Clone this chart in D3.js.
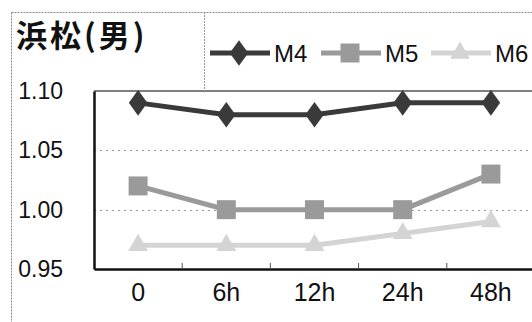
<!DOCTYPE html>
<html><head><meta charset="utf-8">
<script src="https://cdn.jsdelivr.net/npm/d3@7"></script>
<style>body{margin:0;background:#fff;}svg{display:block;}</style>
</head><body>
<svg id="c" width="532" height="322"></svg>
<script>
const categories = ["0", "6h", "12h", "24h", "48h"];
const seriesNames = ["M4", "M5", "M6"];
const m4 = [1.09, 1.08, 1.08, 1.09, 1.09];
const m5 = [1.02, 1.00, 1.00, 1.00, 1.03];
const m6 = [0.97, 0.97, 0.97, 0.98, 0.99];
const yTicks = [0.95, 1.00, 1.05, 1.10];
const title = "浜松(男)";

const svg = d3.select("#c");
const plot = {left: 94, right: 535, top: 91, bottom: 269};
const x = d3.scaleBand().domain(categories).range([plot.left, plot.right]);
const y = d3.scaleLinear().domain([0.95, 1.10]).range([plot.bottom, plot.top]);

const styles = [
  {name: seriesNames[0], values: m4, color: "#3a3a3a", shape: d3.symbolDiamond, size: 190},
  {name: seriesNames[1], values: m5, color: "#9a9a9a", shape: d3.symbolSquare, size: 360},
  {name: seriesNames[2], values: m6, color: "#d4d4d4", shape: d3.symbolTriangle, size: 170}
];

// outer dashed border
svg.append("rect").attr("x", 11.5).attr("y", 12.5).attr("width", 600).attr("height", 400)
  .attr("fill", "none").attr("stroke", "#888").attr("stroke-width", 1).attr("stroke-dasharray", "2,1");

// title
svg.append("text").attr("x", 16).attr("y", 47).text(title)
  .attr("font-family", "'Noto Sans CJK JP', sans-serif").attr("font-weight", "bold")
  .attr("font-size", 31).attr("letter-spacing", 3).attr("fill", "#111");

// gridlines
svg.append("g").selectAll("line").data([1.00, 1.05]).join("line")
  .attr("x1", plot.left).attr("x2", plot.right)
  .attr("y1", d => Math.round(y(d)) + 0.5).attr("y2", d => Math.round(y(d)) + 0.5)
  .attr("stroke", "#999").attr("stroke-width", 1).attr("stroke-dasharray", "2,4");

// plot top line
svg.append("line").attr("x1", plot.left).attr("x2", 532).attr("y1", plot.top).attr("y2", plot.top)
  .attr("stroke", "#555").attr("stroke-width", 1.5);

// legend box left
svg.append("line").attr("x1", 204.5).attr("x2", 204.5).attr("y1", 12).attr("y2", plot.top)
  .attr("stroke", "#999").attr("stroke-width", 1).attr("stroke-dasharray", "2,1");

// x axis
const xAxis = d3.axisBottom(x).tickSize(0).tickPadding(24);
const gx = svg.append("g").attr("transform", `translate(0,${plot.bottom})`).call(xAxis);
gx.select(".domain").attr("stroke", "#111").attr("stroke-width", 2.5);
gx.selectAll("text").attr("font-family", "'Liberation Sans', Arial, sans-serif")
  .attr("font-size", 25).attr("fill", "#111").attr("dy", "0.3em");
// category boundary ticks inside
svg.append("g").selectAll("line").data(categories.slice(1)).join("line")
  .attr("x1", d => x(d)).attr("x2", d => x(d))
  .attr("y1", plot.bottom).attr("y2", plot.bottom - 6)
  .attr("stroke", "#555").attr("stroke-width", 1);

// y axis
const yAxis = d3.axisLeft(y).tickValues(yTicks).tickFormat(d3.format(".2f")).tickSize(0).tickPadding(31);
const gy = svg.append("g").attr("transform", `translate(${plot.left},0)`).call(yAxis);
gy.select(".domain").attr("stroke", "#111").attr("stroke-width", 2.5);
gy.selectAll("text").attr("font-family", "'Liberation Sans', Arial, sans-serif")
  .attr("font-size", 23).attr("fill", "#111");

// series
const line = d3.line().x((d, i) => x(categories[i]) + x.bandwidth() / 2).y(d => y(d));
styles.slice().reverse().forEach(s => {
  const g = svg.append("g");
  g.append("path").datum(s.values).attr("d", line).attr("fill", "none")
    .attr("stroke", s.color).attr("stroke-width", 5);
  g.selectAll("path.m").data(s.values).join("path").attr("class", "m")
    .attr("d", d3.symbol().type(s.shape).size(s.size))
    .attr("transform", (d, i) => `translate(${x(categories[i]) + x.bandwidth() / 2},${y(d)})${s.shape === d3.symbolDiamond ? " scale(1.25,1)" : ""}`)
    .attr("fill", s.color);
});

// legend
const legX = [210, 321, 431];
styles.forEach((s, i) => {
  const g = svg.append("g").attr("transform", `translate(${legX[i]},53)`);
  g.append("line").attr("x1", 0).attr("x2", 60).attr("stroke", s.color).attr("stroke-width", 5);
  g.append("path").attr("d", d3.symbol().type(s.shape).size(s.size)())
    .attr("transform", `translate(29,0)${s.shape === d3.symbolDiamond ? " scale(1.25,1)" : ""}`)
    .attr("fill", s.color);
  g.append("text").attr("x", 64).attr("y", 0).attr("dy", "0.36em").text(s.name)
    .attr("font-family", "'Liberation Sans', Arial, sans-serif").attr("font-size", 24).attr("fill", "#111");
});
</script>
</body></html>
